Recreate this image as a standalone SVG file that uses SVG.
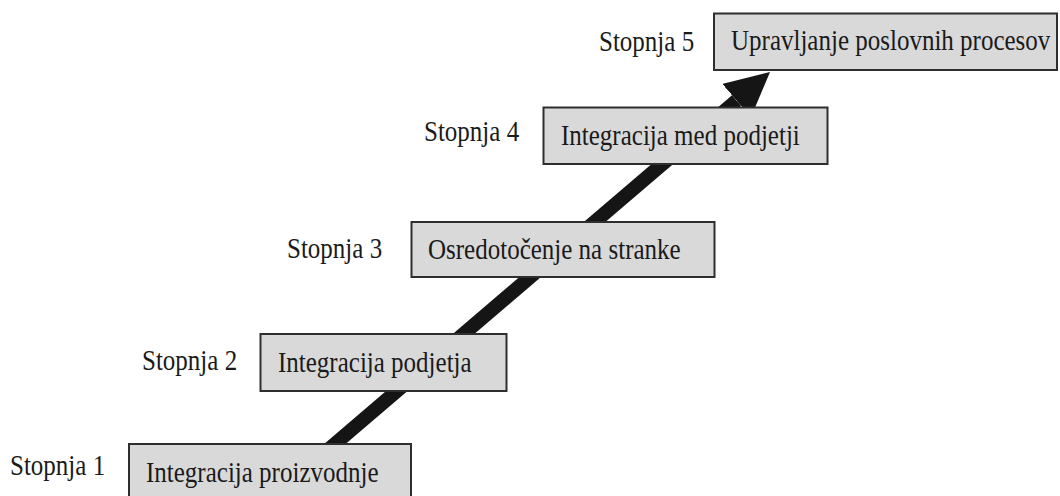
<svg xmlns="http://www.w3.org/2000/svg" width="1060" height="496" viewBox="0 0 1060 496">
  <style>
    .box { fill: #d9d9d9; stroke: #2e2e2e; stroke-width: 2; }
    .txt { font-family: "Liberation Serif", "Times New Roman", serif; font-size: 25px; fill: #1a1a1a; }
    .shaft { stroke: #151515; stroke-width: 14; fill: none; stroke-linecap: butt; }
  </style>
  <defs>
    <marker id="head" markerUnits="userSpaceOnUse" markerWidth="44" markerHeight="44" viewBox="0 0 44 44" refX="0" refY="22" orient="auto">
      <path d="M0,0 L44,22 L0,44 Z" fill="#151515"/>
    </marker>
  </defs>
  <rect width="1060" height="496" fill="#ffffff"/>
  <g id="connectors">
    <line class="shaft" x1="292.7" y1="480" x2="736.6" y2="100.6" marker-end="url(#head)"/>
  </g>
  <g id="stage1">
    <rect class="box" x="129" y="444" width="282" height="62"/>
    <text class="txt" transform="translate(146,482) scale(1,1.15)">Integracija proizvodnje</text>
    <text class="txt" transform="translate(10,475) scale(1,1.15)">Stopnja 1</text>
  </g>
  <g id="stage2">
    <rect class="box" x="260.5" y="334" width="246" height="57"/>
    <text class="txt" transform="translate(278,372) scale(1,1.15)">Integracija podjetja</text>
    <text class="txt" transform="translate(142,370) scale(1,1.15)">Stopnja 2</text>
  </g>
  <g id="stage3">
    <rect class="box" x="411.5" y="222" width="303" height="55"/>
    <text class="txt" transform="translate(428,259) scale(1,1.15)">Osredotočenje na stranke</text>
    <text class="txt" transform="translate(287,258) scale(1,1.15)">Stopnja 3</text>
  </g>
  <g id="stage4">
    <rect class="box" x="543.5" y="107.5" width="284" height="56.5"/>
    <text class="txt" transform="translate(561,145) scale(1,1.15)">Integracija med podjetji</text>
    <text class="txt" transform="translate(424,141) scale(1,1.15)">Stopnja 4</text>
  </g>
  <g id="stage5">
    <rect class="box" x="714" y="13.5" width="343" height="56.5"/>
    <text class="txt" transform="translate(731,50) scale(1,1.15)">Upravljanje poslovnih procesov</text>
    <text class="txt" transform="translate(599,51) scale(1,1.15)">Stopnja 5</text>
  </g>
</svg>
